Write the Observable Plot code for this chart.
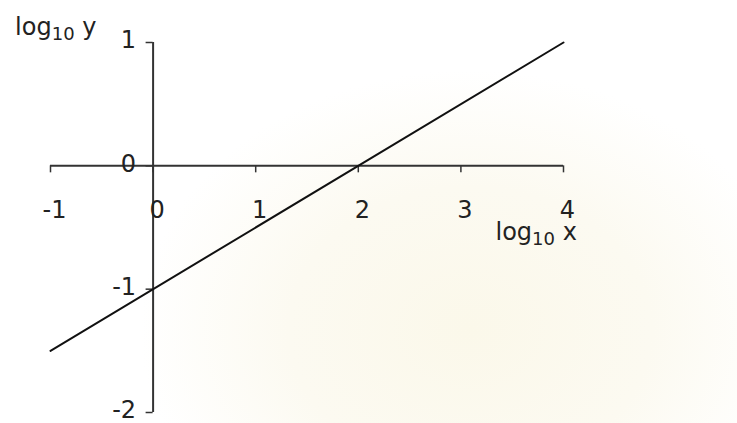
<!DOCTYPE html>
<html><head><meta charset="utf-8">
<script src="https://cdn.jsdelivr.net/npm/d3@7"></script>
<script src="https://cdn.jsdelivr.net/npm/@observablehq/plot@0.6"></script>
<style>
body{margin:0;background:#fff}
#chart{width:737px;height:423px;background:radial-gradient(ellipse 330px 260px at 470px 330px,#fbf8ea 0%,#fcfaf1 55%,#ffffff 100%)}
svg{display:block}
</style>
</head><body><div id="chart"></div>
<script>
const xTicks = [-1, 0, 1, 2, 3, 4];
const yTicks = [-2, -1, 0, 1];
const lineX = [-1, 4];
const lineY = [-1.5, 1];
const xLabel = ["log", "10", " x"];
const yLabel = ["log", "10", " y"];

const lineData = lineX.map((x, i) => ({x, y: lineY[i]}));
const fmt = d => (d < 0 ? "-" + Math.abs(d) : String(d));
const axisColor = "#333";

const chart = Plot.plot({
  width: 737, height: 423, margin: 0,
  x: {domain: [-1, 4], range: [50, 563], axis: null},
  y: {domain: [-2, 1], range: [412, 42], axis: null},
  style: {fontFamily: "DejaVu Sans", background: "transparent", color: "#222"},
  marks: [
    Plot.ruleY([0], {x1: xTicks[0], x2: xTicks[xTicks.length - 1], stroke: axisColor, strokeWidth: 2}),
    Plot.ruleX([0], {y1: yTicks[0], y2: yTicks[yTicks.length - 1], stroke: axisColor, strokeWidth: 2}),
    Plot.ruleX(xTicks, {x: d => d, y1: 0, y2: 0, insetBottom: -7, stroke: axisColor, strokeWidth: 1.5}),
    Plot.ruleY(yTicks, {y: d => d, x1: 0, x2: 0, insetLeft: -7, stroke: axisColor, strokeWidth: 1.5}),
    Plot.line(lineData, {x: "x", y: "y", stroke: "#111", strokeWidth: 2}),
    Plot.text(xTicks, {x: d => d, y: 0, text: fmt, dy: 44, dx: 4, fontSize: 24, fill: "#222"}),
    Plot.text(yTicks, {x: 0, y: d => d, text: fmt, textAnchor: "end", dx: -17, dy: -2, fontSize: 24, fill: "#222"}),
    Plot.text([yLabel.join("")], {x: 0, y: 1, text: d => d, textAnchor: "start", dx: -138, dy: -15, fontSize: 24, fill: "#222", className: "ylab"}),
    Plot.text([xLabel.join("")], {x: 4, y: 0, text: d => d, textAnchor: "start", dx: -68, dy: 66, fontSize: 24, fill: "#222", className: "xlab"})
  ]
});
document.getElementById("chart").appendChild(chart);

function richLabel(sel, parts) {
  const t = chart.querySelector(sel + " text");
  if (!t) return;
  t.textContent = "";
  const ns = "http://www.w3.org/2000/svg";
  const a = document.createElementNS(ns, "tspan"); a.textContent = parts[0];
  const b = document.createElementNS(ns, "tspan"); b.textContent = parts[1];
  b.setAttribute("font-size", 18); b.setAttribute("dy", 5);
  const c = document.createElementNS(ns, "tspan"); c.textContent = parts[2];
  c.setAttribute("dy", -5);
  t.append(a, b, c);
}
richLabel(".ylab", yLabel);
richLabel(".xlab", xLabel);
</script>
</body></html>
